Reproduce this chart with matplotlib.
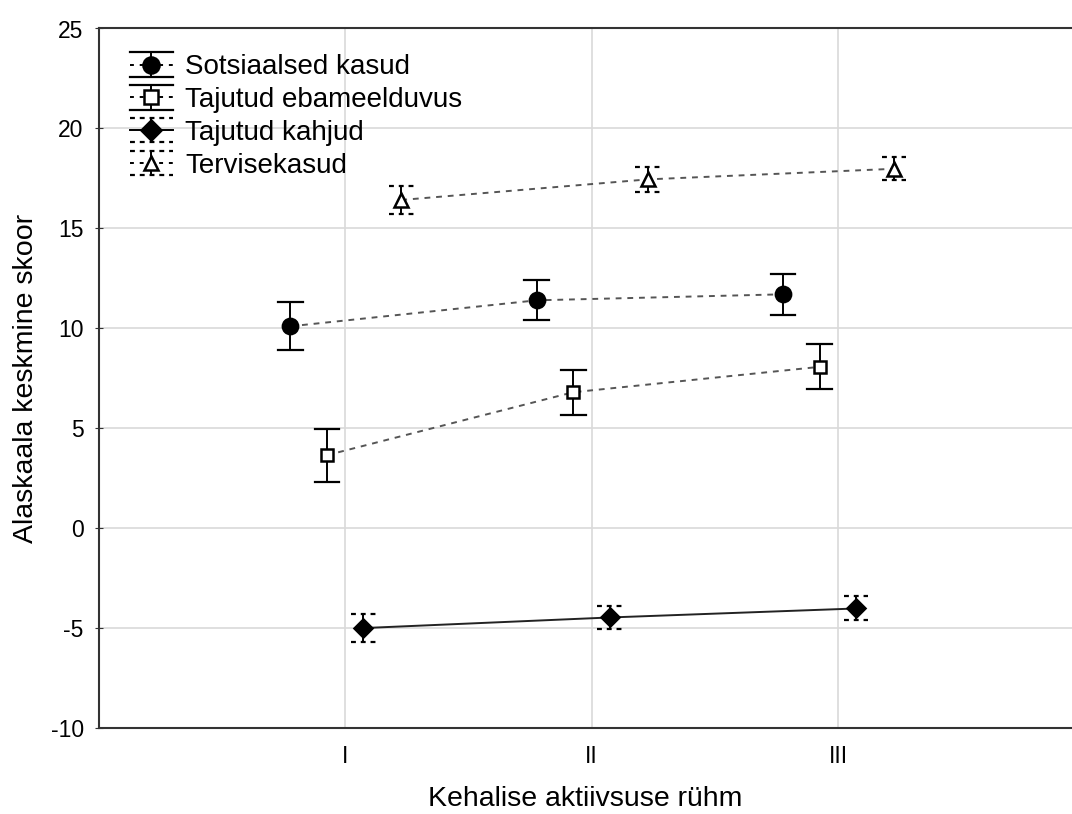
import matplotlib
matplotlib.use('Agg')
import matplotlib.pyplot as plt
import numpy as np
from matplotlib.lines import Line2D
from matplotlib.legend_handler import HandlerBase

plt.rcParams['font.family'] = ['Liberation Sans', 'DejaVu Sans']
plt.rcParams['axes.unicode_minus'] = False

# ---------------------------------------------------------------------------
# Data
# ---------------------------------------------------------------------------
groups = ['I', 'II', 'III']

series_names = ['Sotsiaalsed kasud', 'Tajutud ebameelduvus', 'Tajutud kahjud', 'Tervisekasud']

sots_mean = [10.1, 11.4, 11.7]
sots_err  = [1.2, 1.0, 1.03]

ebam_mean = [3.65, 6.8, 8.07]
ebam_err  = [1.33, 1.12, 1.12]

kahj_mean = [-5.0, -4.47, -4.02]
kahj_err  = [0.7, 0.58, 0.6]

terv_mean = [16.42, 17.45, 17.98]
terv_err  = [0.72, 0.63, 0.58]

# ---------------------------------------------------------------------------
# Styles: x offset, marker, fill, line style, cap style
# ---------------------------------------------------------------------------
STYLES = [
    dict(offset=-0.223, marker='o', mfc='black', ms=11, ls=(0, (3, 3)), lc='#555555', lw=1.4, cap='-'),
    dict(offset=-0.075, marker='s', mfc='white', ms=9,  ls=(0, (3, 3)), lc='#555555', lw=1.4, cap='-'),
    dict(offset=0.073,  marker='D', mfc='black', ms=9.5, ls='-',         lc='#222222', lw=1.4, cap='--'),
    dict(offset=0.227,  marker='^', mfc='white', ms=10, ls=(0, (3, 3)), lc='#555555', lw=1.4, cap='--'),
]

CAP_HALF = 0.05


def draw_series(ax, x, mean, err, st):
    ax.plot(x, mean, color=st['lc'], linestyle=st['ls'], lw=st['lw'], zorder=2)
    for xi, m, e in zip(x, mean, err):
        ax.plot([xi, xi], [m - e, m + e], color='black', lw=1.4, zorder=3)
        for yc in (m - e, m + e):
            ax.plot([xi - CAP_HALF, xi + CAP_HALF], [yc, yc], color='black', lw=1.6,
                    linestyle=(0, (2.2, 2.2)) if st['cap'] == '--' else '-',
                    zorder=3)
    ax.plot(x, mean, linestyle='none', marker=st['marker'], ms=st['ms'],
            mfc=st['mfc'], mec='black', mew=1.8, zorder=4)


class ErrHandler(HandlerBase):
    def __init__(self, st):
        super().__init__()
        self.st = st

    def create_artists(self, legend, orig_handle, xdescent, ydescent, width, height, fontsize, trans):
        st = self.st
        xc = width / 2 - xdescent
        top = height * 1.05 - ydescent
        bot = -height * 0.05 - ydescent
        mid = height / 2 - ydescent
        capls = (0, (2.2, 2.2)) if st['cap'] == '--' else '-'
        arts = [
            Line2D([-xdescent, width - xdescent], [mid, mid], color='black',
                   linestyle=(0, (2, 3)) if st['ls'] != '-' else '-', lw=1.4),
            Line2D([xc, xc], [bot, top], color='black', lw=1.4),
            Line2D([-xdescent, width - xdescent], [top, top], color='black', lw=1.6, linestyle=capls),
            Line2D([-xdescent, width - xdescent], [bot, bot], color='black', lw=1.6, linestyle=capls),
            Line2D([xc], [mid], marker=st['marker'], ms=st['ms'] * 1.05, mfc=st['mfc'],
                   mec='black', mew=1.8, linestyle='none'),
        ]
        for a in arts:
            a.set_transform(trans)
        return arts


fig = plt.figure(figsize=(10.72, 8.14), dpi=100)
ax = fig.add_axes([99 / 1072, 1 - 728 / 814, 1 - 99 / 1072, (728 - 28.5) / 814])

xpos = np.arange(1, len(groups) + 1)
all_data = [(sots_mean, sots_err), (ebam_mean, ebam_err), (kahj_mean, kahj_err), (terv_mean, terv_err)]
for (mean, err), st in zip(all_data, STYLES):
    draw_series(ax, xpos + st['offset'], mean, err, st)

ax.set_xlim(0, 3.95)
ax.set_ylim(-10, 25)
ax.set_xticks(xpos)
ax.set_xticklabels(groups)
ax.set_yticks(np.arange(-10, 26, 5))
ax.grid(True, color='#d9d9d9', lw=1.2, zorder=0)
ax.set_axisbelow(True)
ax.spines['right'].set_visible(False)
for s in ('left', 'top', 'bottom'):
    ax.spines[s].set_linewidth(1.5)
    ax.spines[s].set_color('#333333')
ax.tick_params(axis='both', labelsize=16.5, direction='inout', length=6, color='#333333')
ax.tick_params(axis='y', pad=8)
ax.tick_params(axis='x', pad=12, length=0)

ax.set_xlabel('Kehalise aktiivsuse rühm', fontsize=20.5, labelpad=13)
ax.set_ylabel('Alaskaala keskmine skoor', fontsize=20.5, labelpad=8)

handles = [Line2D([], []) for _ in series_names]
ax.legend(handles, series_names, handler_map={h: ErrHandler(st) for h, st in zip(handles, STYLES)},
          loc='upper left', bbox_to_anchor=(0.02, 0.98), frameon=False, fontsize=20,
          handlelength=1.55, handleheight=0.85, handletextpad=0.45, labelspacing=0.22,
          borderaxespad=0)

fig.savefig('out.png', dpi=100)
